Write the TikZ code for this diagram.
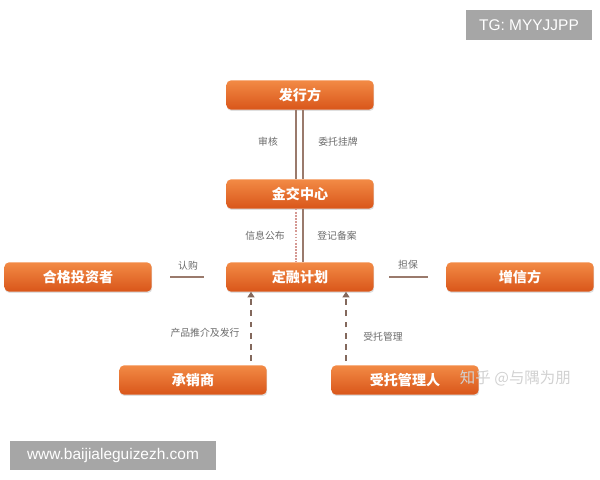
\documentclass[tikz,border=0pt]{standalone}
\usepackage{fontspec}
\newfontfamily\cjk{Noto Sans CJK SC}
\newfontfamily\wmfont{Liberation Sans}
\usetikzlibrary{arrows.meta,shadows}
\definecolor{boxtop}{HTML}{F28A45}
\definecolor{boxbot}{HTML}{D9561A}
\definecolor{linkline}{HTML}{9A7A6C}
\definecolor{labelgray}{HTML}{6A6A6A}
\tikzset{
  partybox/.style={rectangle, rounded corners=3pt, minimum width=3.675cm, minimum height=0.725cm,
    top color=boxtop, bottom color=boxbot, draw=none, text=white,
    font=\cjk\bfseries\fontsize{10}{12}\selectfont,
    drop shadow={opacity=0.25, shadow xshift=0.5pt, shadow yshift=-1pt}},
  linklabel/.style={font=\cjk\fontsize{7}{8}\selectfont, text=labelgray},
  link/.style={draw=linkline, line width=1.4pt},
  dotlink/.style={draw=linkline!70!red!60, line width=1.6pt, dash pattern=on 1.2pt off 1pt},
  duty/.style={draw=linkline!85!black, line width=1.3pt, dash pattern=on 4pt off 4pt, -{Triangle[width=5pt,length=4pt]}},
  wmbox/.style={fill=black!35, text=white, inner sep=0pt, font=\wmfont\fontsize{11}{13}\selectfont}
}
\begin{document}
\begin{tikzpicture}[x=0.025cm, y=-0.025cm]
\useasboundingbox (0,0) rectangle (600,480);
% parties
\node[partybox] (issuer)   at (300,95)  {发行方};
\node[partybox] (exchange) at (300,194) {金交中心};
\node[partybox] (plan)     at (300,277) {定融计划};
\node[partybox] (investor) at (78,277)  {合格投资者};
\node[partybox] (guarant)  at (520,277) {增信方};
\node[partybox] (under)    at (193,380) {承销商};
\node[partybox] (trustee)  at (405,380) {受托管理人};
% links
\draw[link] ([xshift=-0.1cm]issuer.south) -- ([xshift=-0.1cm]exchange.north);
\draw[link] ([xshift=0.08cm]issuer.south) -- ([xshift=0.08cm]exchange.north);
\draw[dotlink] ([xshift=-0.1cm]exchange.south) -- ([xshift=-0.1cm]plan.north);
\draw[link] ([xshift=0.08cm]exchange.south) -- ([xshift=0.08cm]plan.north);
\draw[link, shorten <=13pt, shorten >=16pt] (investor.east) -- (plan.west);
\draw[link, shorten <=11pt, shorten >=13pt] (plan.east) -- (guarant.west);
\coordinate (underup) at (251,361);
\coordinate (trustup) at (346,361);
\draw[duty] (underup) -- (underup |- plan.south);
\draw[duty] (trustup) -- (trustup |- plan.south);
% labels
\node[linklabel] (l1) at (268,142) {审核};
\node[linklabel] (l2) at (338,142) {委托挂牌};
\node[linklabel] (l3) at (265,236) {信息公布};
\node[linklabel] (l4) at (337,236) {登记备案};
\node[linklabel] (l5) at (188,266) {认购};
\node[linklabel] (l6) at (408,265) {担保};
\node[linklabel] (l7) at (205,333) {产品推介及发行};
\node[linklabel] (l8) at (383,337) {受托管理};
% watermarks
\node[text=black!18, font=\cjk\fontsize{11}{13}\selectfont, anchor=west] (zh) at (455,378) {知乎 @与隅为朋};
\node[wmbox, minimum width=3.15cm, minimum height=0.75cm] (tg) at (529,25) {TG: MYYJJPP};
\node[wmbox, minimum width=5.15cm, minimum height=0.73cm] (www) at (113,455.5) {www.baijialeguizezh.com};
\end{tikzpicture}
\end{document}
